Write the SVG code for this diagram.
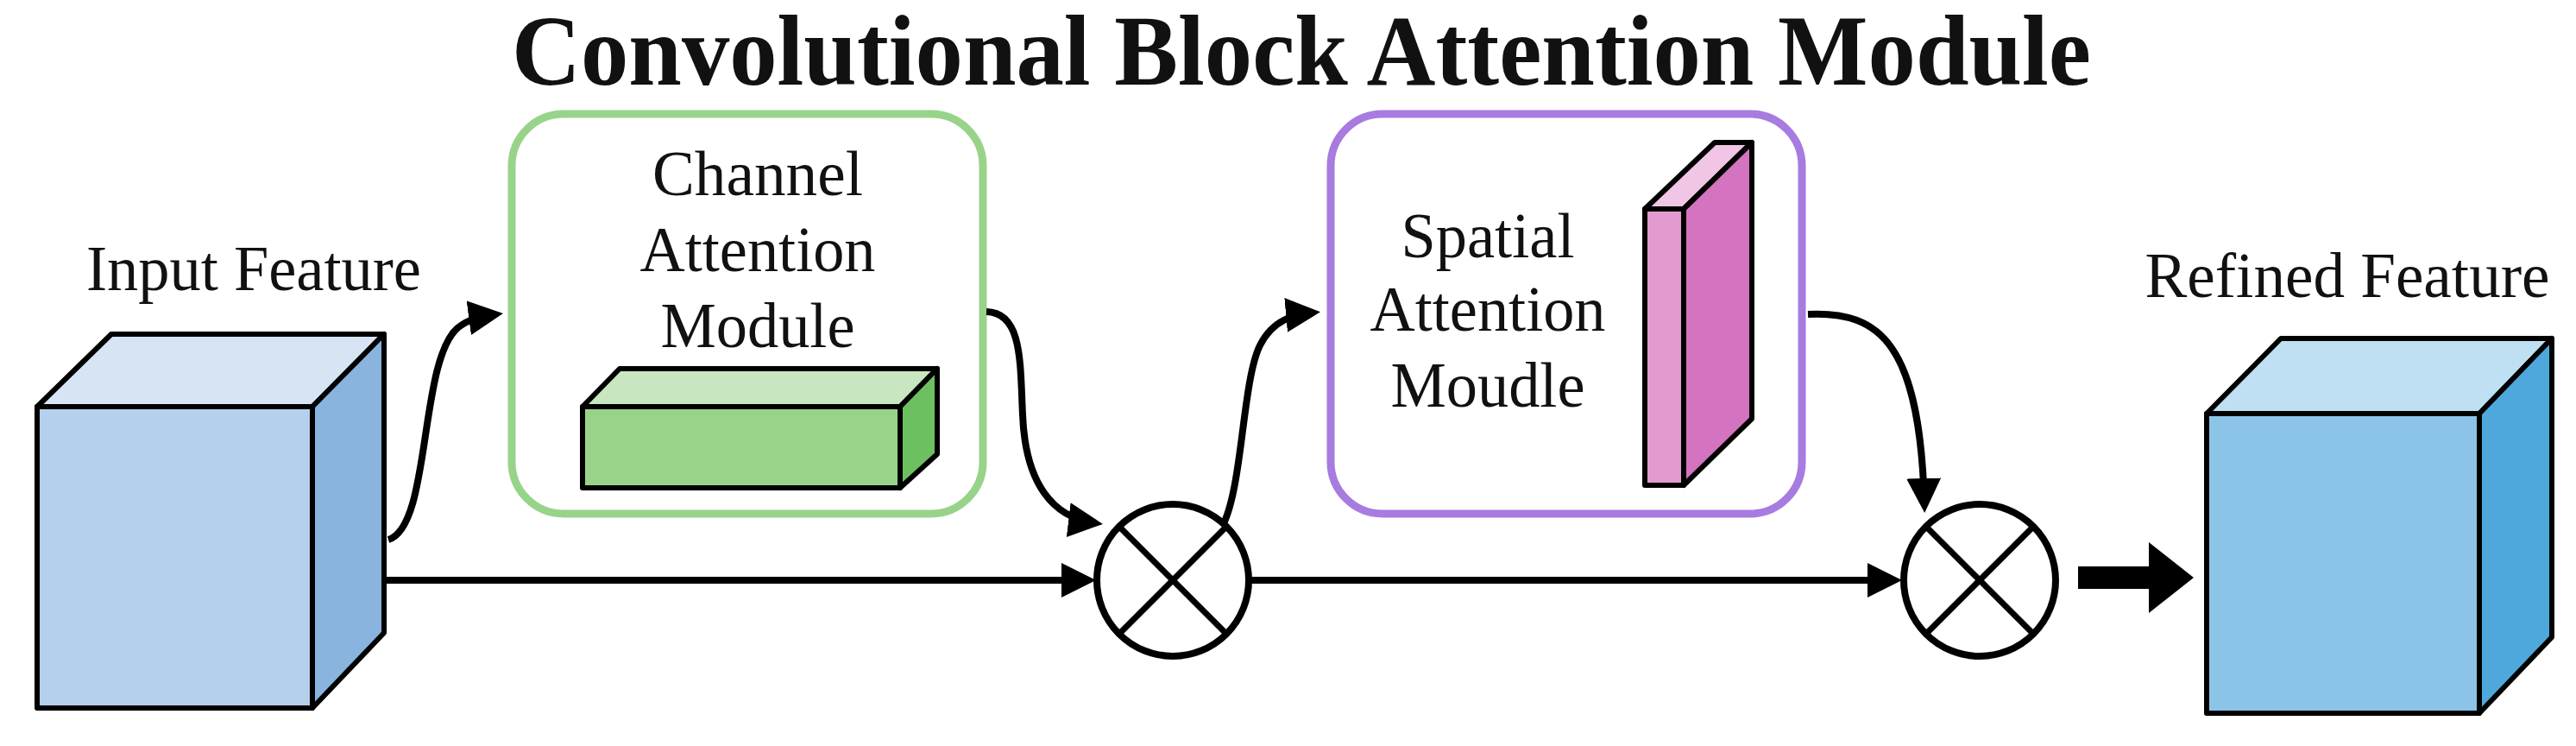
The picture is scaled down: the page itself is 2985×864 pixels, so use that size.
<svg xmlns="http://www.w3.org/2000/svg" width="2985" height="864" viewBox="0 0 2985 864">
<style>
.t{font-family:"Liberation Serif",serif;font-size:74px;fill:#111;text-anchor:middle}
.title{font-family:"Liberation Serif",serif;font-weight:bold;font-size:116px;fill:#111}
.edge{stroke:#000;stroke-width:6;stroke-linejoin:round}
.conn{fill:none;stroke:#000;stroke-width:8}
.op{fill:#fff;stroke:#000;stroke-width:8}
</style>
<defs>
<marker id="ah" markerWidth="5" markerHeight="5" refX="4" refY="2.5" orient="auto" markerUnits="strokeWidth"><path d="M0,0 L5,2.5 L0,5 Z" fill="#000"/></marker>
</defs>
<rect width="2985" height="864" fill="#fff"/>
<text class="title" x="1508" y="98" text-anchor="middle" textLength="1830" lengthAdjust="spacingAndGlyphs">Convolutional Block Attention Module</text>
<g id="input-feature">
<text class="t" x="294" y="336" textLength="388" lengthAdjust="spacingAndGlyphs">Input Feature</text>
<polygon class="edge" points="43,471 129,387 445,387 362,471" fill="#D6E4F4"/>
<polygon class="edge" points="362,471 445,387 445,733 362,820" fill="#88B4DE"/>
<rect class="edge" x="43" y="471" width="319" height="349" fill="#B4D0EC"/>
</g>
<g id="channel-attention">
<rect x="593" y="132" width="546" height="463" rx="60" fill="#fff" stroke="#98D38A" stroke-width="9"/>
<text class="t" x="878" y="226" textLength="244" lengthAdjust="spacingAndGlyphs">Channel</text>
<text class="t" x="878" y="314" textLength="273" lengthAdjust="spacingAndGlyphs">Attention</text>
<text class="t" x="878" y="402" textLength="225" lengthAdjust="spacingAndGlyphs">Module</text>
<polygon class="edge" points="675,471 718,427 1086,427 1043,471" fill="#C8E6C0"/>
<polygon class="edge" points="1043,471 1086,427 1086,526 1043,565" fill="#6CC060"/>
<rect class="edge" x="675" y="471" width="368" height="94" fill="#98D38A"/>
</g>
<g id="spatial-attention">
<rect x="1542" y="132" width="546" height="463" rx="60" fill="#fff" stroke="#A77BE0" stroke-width="9"/>
<text class="t" x="1724" y="298" textLength="201" lengthAdjust="spacingAndGlyphs">Spatial</text>
<text class="t" x="1724" y="383" textLength="273" lengthAdjust="spacingAndGlyphs">Attention</text>
<text class="t" x="1724" y="471" textLength="225" lengthAdjust="spacingAndGlyphs">Moudle</text>
<polygon class="edge" points="1906,242 1987,165 2030,165 1951,242" fill="#F0C5E5"/>
<polygon class="edge" points="1951,242 2030,165 2030,485 1951,562" fill="#D473C0"/>
<rect class="edge" x="1906" y="242" width="45" height="320" fill="#E29BCF"/>
</g>
<g id="mult1">
<circle class="op" cx="1359" cy="672" r="88"/>
<path d="M1297,610 L1421,734 M1421,610 L1297,734" stroke="#000" stroke-width="7"/>
</g>
<g id="mult2">
<circle class="op" cx="2294" cy="672" r="88"/>
<path d="M2232,610 L2356,734 M2356,610 L2232,734" stroke="#000" stroke-width="7"/>
</g>
<g id="refined-feature">
<text class="t" x="2720" y="344" textLength="469" lengthAdjust="spacingAndGlyphs">Refined Feature</text>
<polygon class="edge" points="2557,479 2643,392 2957,392 2873,479" fill="#BEE0F2"/>
<polygon class="edge" points="2873,479 2957,392 2957,738 2873,826" fill="#4EA8DC"/>
<rect class="edge" x="2557" y="479" width="316" height="347" fill="#8CC4E8"/>
</g>
<g id="connectors">
<path class="conn" d="M450,625 C500,610 485,420 530,380 C545,368 560,366 575,364" marker-end="url(#ah)"/>
<path class="conn" d="M445,672 L1262,672" marker-end="url(#ah)"/>
<path class="conn" d="M1143,361 C1185,362 1182,420 1185,480 C1188,560 1220,600 1270,606" marker-end="url(#ah)"/>
<path class="conn" d="M1418,606 C1440,560 1440,440 1460,400 C1475,370 1500,364 1522,362" marker-end="url(#ah)"/>
<path class="conn" d="M1447,672 L2196,672" marker-end="url(#ah)"/>
<path class="conn" d="M2095,364 C2180,360 2225,400 2230,586" marker-end="url(#ah)"/>
<path d="M2408,656 L2490,656 L2490,628 L2542,669 L2490,710 L2490,682 L2408,682 Z" fill="#000"/>
</g>
</svg>
